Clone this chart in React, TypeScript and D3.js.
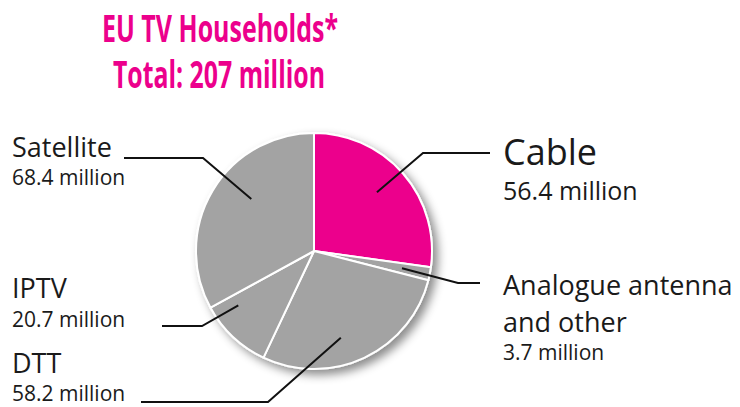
import React, { useEffect, useRef } from "react";
import * as d3 from "d3";

// 데이터
const categories = ["Cable", "Analogue antenna and other", "DTT", "IPTV", "Satellite"];
const values = [56.4, 3.7, 58.2, 20.7, 68.4];
const valueLabels = ["56.4 million", "3.7 million", "58.2 million", "20.7 million", "68.4 million"];
const titleLines = ["EU TV Households*", "Total: 207 million"];

const PINK = "#ec008c";
const GREY = "#a3a3a3";

// 라벨 배치 (레이아웃)
const labelLayout = [
  { nameLines: ["Cable"], nameSize: 36, valueSize: 25, x: 503, y: 165, lineGap: 35, anchorShift: -2, anchorR: 0.73, elbow: [423, 153], end: 490 },
  { nameLines: ["Analogue antenna", "and other"], nameSize: 27, valueSize: 21, x: 503, y: 295, lineGap: 37, valueGap: 28, anchorShift: 0, anchorR: 0.76, elbow: [458, 283], end: 480 },
  { nameLines: ["DTT"], nameSize: 27, valueSize: 21, x: 12, y: 373, lineGap: 28, anchorShift: 8, anchorR: 0.77, elbow: [268, 402], end: 141 },
  { nameLines: ["IPTV"], nameSize: 27, valueSize: 21, x: 12, y: 298, lineGap: 29, anchorShift: 11, anchorR: 0.79, elbow: [202, 326], end: 162 },
  { nameLines: ["Satellite"], nameSize: 27, valueSize: 21, x: 12, y: 157, lineGap: 28, anchorShift: 9, anchorR: 0.69, elbow: [203, 158], end: 124 },
];

const W = 740;
const H = 407;

const App: React.FC = () => {
  const svgRef = useRef<SVGSVGElement>(null);

  useEffect(() => {
    if (!svgRef.current) return;
    const svg = d3.select(svgRef.current);
    svg.selectAll("*").remove();

    const cx = 314;
    const cy = 251;
    const r = 118;

    // 그림자 필터
    const defs = svg.append("defs");
    const filter = defs
      .append("filter")
      .attr("id", "shadow")
      .attr("x", "-20%")
      .attr("y", "-20%")
      .attr("width", "150%")
      .attr("height", "150%");
    filter
      .append("feDropShadow")
      .attr("dx", 5)
      .attr("dy", 5)
      .attr("stdDeviation", 5)
      .attr("flood-color", "#000")
      .attr("flood-opacity", 0.45);

    // 제목
    const title = svg
      .append("g")
      .attr("font-family", "'Open Sans', sans-serif")
      .attr("font-weight", 700)
      .attr("fill", PINK)
      .attr("text-anchor", "middle");
    title
      .append("text")
      .attr("x", 220)
      .attr("y", 42)
      .attr("font-size", 37)
      .attr("textLength", 236)
      .attr("lengthAdjust", "spacingAndGlyphs")
      .text(titleLines[0]);
    title
      .append("text")
      .attr("x", 219)
      .attr("y", 88)
      .attr("font-size", 37)
      .attr("textLength", 212)
      .attr("lengthAdjust", "spacingAndGlyphs")
      .text(titleLines[1]);

    // 파이
    const pie = d3
      .pie<number>()
      .sort(null)
      .value((d) => d);
    const arcs = pie(values);
    const arc = d3.arc<d3.PieArcDatum<number>>().innerRadius(0).outerRadius(r);

    const pieG = svg.append("g").attr("transform", `translate(${cx}, ${cy})`);
    const shadowG = pieG.append("g").attr("filter", "url(#shadow)");
    shadowG
      .selectAll("path")
      .data(arcs)
      .join("path")
      .attr("d", arc)
      .attr("fill", (_d, i) => (i === 0 ? PINK : GREY))
      .attr("stroke", "#fff")
      .attr("stroke-width", 2)
      .attr("stroke-linejoin", "round");

    // 리더 라인 + 라벨
    arcs.forEach((a, i) => {
      const lay = labelLayout[i];
      const mid = (a.startAngle + a.endAngle) / 2 + (lay.anchorShift * Math.PI) / 180;
      const ar = r * lay.anchorR;
      const ax = cx + ar * Math.sin(mid);
      const ay = cy - ar * Math.cos(mid);
      const line = d3.line();
      svg
        .append("path")
        .attr(
          "d",
          line([
            [ax, ay],
            [lay.elbow[0], lay.elbow[1]],
            [lay.end, lay.elbow[1]],
          ])
        )
        .attr("fill", "none")
        .attr("stroke", "#111")
        .attr("stroke-width", 2);

      const tg = svg
        .append("g")
        .attr("font-family", "'Open Sans', sans-serif")
        .attr("fill", "#1a1a1a");
      lay.nameLines.forEach((t, k) => {
        tg.append("text")
          .attr("x", lay.x)
          .attr("y", lay.y + k * lay.lineGap)
          .attr("font-size", lay.nameSize)
          .text(t);
      });
      const vy =
        lay.y +
        (lay.nameLines.length - 1) * lay.lineGap +
        (lay.valueGap ?? lay.lineGap);
      tg.append("text")
        .attr("x", lay.x)
        .attr("y", vy)
        .attr("font-size", lay.valueSize)
        .text(valueLabels[i]);
    });
  }, []);

  return (
    <div style={{ position: "absolute", left: 0, top: 0, width: W, height: H, background: "#fff" }}>
      <svg ref={svgRef} width={W} height={H} style={{ display: "block" }} />
    </div>
  );
};

export default App;
